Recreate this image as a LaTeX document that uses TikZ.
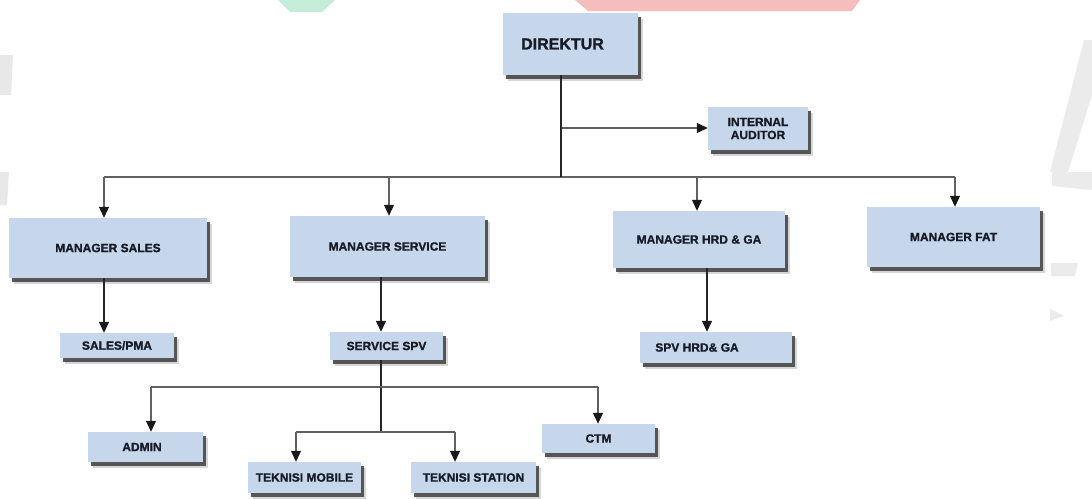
\documentclass[tikz,border=0pt]{standalone}
\usepackage{fontspec}
\setmainfont{Liberation Sans}[BoldFeatures={FakeBold=1.2}]
\usetikzlibrary{arrows.meta,shadows}
\definecolor{boxfill}{HTML}{C6D7EC}
\definecolor{txt}{HTML}{161B26}
\definecolor{wmgreen}{HTML}{C4ECD9}
\definecolor{wmred}{HTML}{F6BDBD}
\begin{document}
\begin{tikzpicture}[x=1pt,y=-1pt,
  orgbox/.style={fill=boxfill, draw=none, inner sep=0pt,
    font=\fontsize{12}{13}\selectfont\bfseries, text=txt,
    drop shadow={shadow xshift=5pt,shadow yshift=-6pt,fill=black!40,opacity=.4},
    drop shadow={shadow xshift=3pt,shadow yshift=-4pt,fill=black!72,opacity=.9}},
  conn/.style={line width=1.3pt, draw=black!85},
  bus/.style={line width=1.1pt, draw=black!62},
  arr/.style={-{Triangle[width=10pt,length=11pt,color=black!90]}},
  wm/.style={draw=none}
]
\useasboundingbox (0,0) rectangle (1092,498);
\fill[white] (0,0) rectangle (1092,498);

% faint watermark fragments
\fill[wm, wmgreen] (278,0) -- (335,0) -- (322,12) -- (290,12) -- cycle;
\fill[wm, wmred] (575,0) -- (860,0) -- (852,11) -- (588,11) -- cycle;
\fill[wm, black!9] (0,55) -- (13,55) -- (11,95) -- (0,95) -- cycle;
\fill[wm, black!9] (0,172) -- (9,172) -- (7,205) -- (0,205) -- cycle;
\fill[wm, black!8] (1084,40) -- (1092,40) -- (1092,95) -- (1068,172) -- (1050,172) -- cycle;
\fill[wm, black!8] (1052,172) -- (1092,172) -- (1092,190) -- (1052,186) -- cycle;
\fill[wm, black!8] (1051,263) -- (1078,263) -- (1075,276) -- (1051,276) -- cycle;
\fill[wm, black!8] (1050,309) -- (1064,316) -- (1050,321) -- cycle;

% boxes
\node[orgbox, minimum width=135pt, minimum height=62pt, font=\fontsize{16}{18}\selectfont\bfseries]
  (dir) at (570.5,44) {\raisebox{-4pt}{DIREKTUR}\hspace*{16pt}};
\node[orgbox, minimum width=100pt, minimum height=43pt, align=center] (aud) at (758,128.5) {INTERNAL\\AUDITOR};
\node[orgbox, minimum width=198pt, minimum height=60pt] (msales) at (108,248) {MANAGER SALES};
\node[orgbox, minimum width=195pt, minimum height=61pt] (mserv) at (387.5,246.5) {MANAGER SERVICE};
\node[orgbox, minimum width=172pt, minimum height=57pt] (mhrd) at (699,239.5) {MANAGER HRD \& GA};
\node[orgbox, minimum width=173pt, minimum height=60pt] (mfat) at (953.5,237) {MANAGER FAT};
\node[orgbox, minimum width=114pt, minimum height=25pt] (spma) at (117,345.5) {SALES/PMA};
\node[orgbox, minimum width=113pt, minimum height=28pt] (sspv) at (386.5,346) {SERVICE SPV};
\node[orgbox, minimum width=152pt, minimum height=31pt] (shrd) at (716,347.5) {SPV HRD\& GA\hspace*{38pt}};
\node[orgbox, minimum width=115pt, minimum height=30pt] (admin) at (145.5,447) {ADMIN\hspace*{7pt}};
\node[orgbox, minimum width=113pt, minimum height=29pt] (ctm) at (598.5,438.5) {CTM};
\node[orgbox, minimum width=113pt, minimum height=31pt] (tmob) at (304.5,477.5) {TEKNISI MOBILE};
\node[orgbox, minimum width=125pt, minimum height=31pt] (tsta) at (473.5,477.5) {TEKNISI STATION};

% junction coordinates
\coordinate (top) at (561,177);
\coordinate (audj) at (561,128);
\coordinate (busL) at (104,177);
\coordinate (b2) at (389,177);
\coordinate (b3) at (697,177);
\coordinate (busR) at (955,177);
\coordinate (xs) at (104,0);
\coordinate (xsv) at (381,0);
\coordinate (xh) at (707,0);
\coordinate (j1) at (381,387);
\coordinate (j2) at (381,432);
\coordinate (a1) at (151,387);
\coordinate (c1) at (598,387);
\coordinate (m1) at (296,432);
\coordinate (t1) at (455,432);

% connectors
\draw[bus] (busL) -- (busR);
\draw[bus, arr] (audj) -- (aud.west |- audj);
\draw[conn] (dir.south -| top) -- (top);
\draw[bus, arr] (busL) -- (busL |- msales.north);
\draw[bus, arr] (b2) -- (b2 |- mserv.north);
\draw[bus, arr] (b3) -- (b3 |- mhrd.north);
\draw[bus, arr] (busR) -- (busR |- mfat.north);
\draw[conn, arr] (msales.south -| xs) -- (spma.north -| xs);
\draw[conn, arr] (mserv.south -| xsv) -- (sspv.north -| xsv);
\draw[conn, arr] (mhrd.south -| xh) -- (shrd.north -| xh);
\draw[conn] (sspv.south -| j1) -- (j2);
\draw[bus] (a1) -- (c1);
\draw[bus, arr] (a1) -- (a1 |- admin.north);
\draw[bus, arr] (c1) -- (c1 |- ctm.north);
\draw[bus] (m1) -- (t1);
\draw[bus, arr] (m1) -- (m1 |- tmob.north);
\draw[bus, arr] (t1) -- (t1 |- tsta.north);
\end{tikzpicture}
\end{document}
